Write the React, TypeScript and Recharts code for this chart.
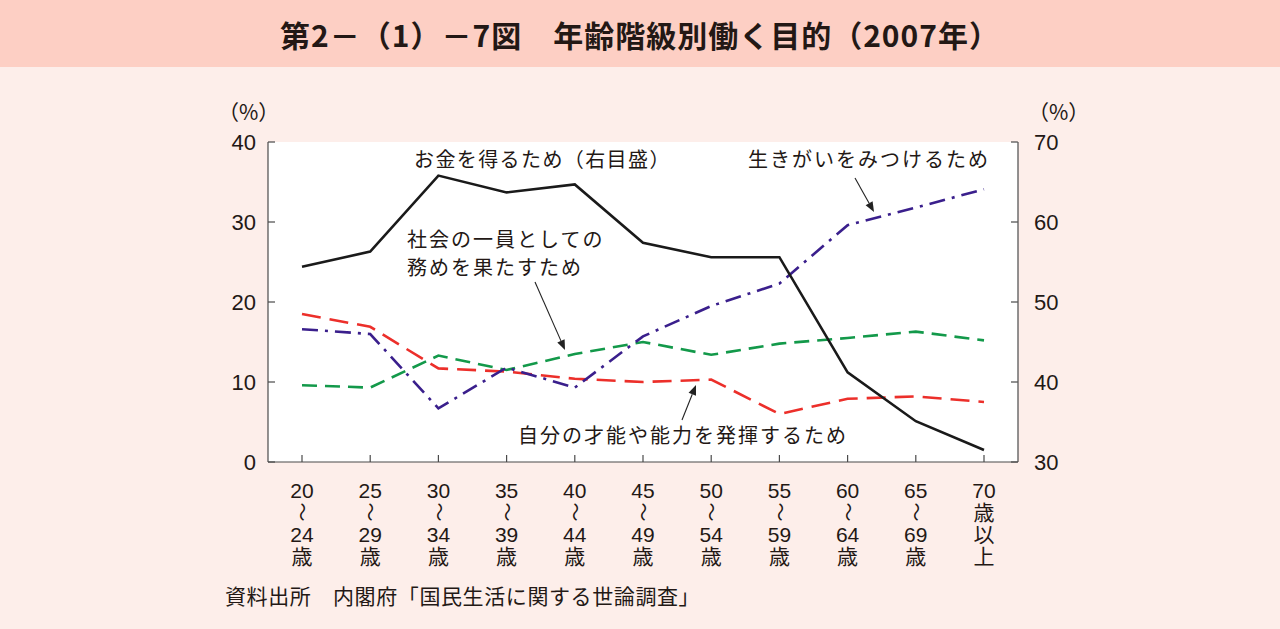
import { LineChart, Line, XAxis, YAxis, CartesianGrid } from "recharts";

// 年齢階級
const AGES = [
  "20～24歳",
  "25～29歳",
  "30～34歳",
  "35～39歳",
  "40～44歳",
  "45～49歳",
  "50～54歳",
  "55～59歳",
  "60～64歳",
  "65～69歳",
  "70歳以上",
];

// お金を得るため（右目盛）
const MONEY = [54.4, 56.3, 65.8, 63.7, 64.7, 57.4, 55.6, 55.6, 41.2, 35.1, 31.5];
// 社会の一員として務めを果たすため
const SOCIAL = [9.6, 9.3, 13.3, 11.5, 13.5, 15.0, 13.4, 14.8, 15.5, 16.3, 15.2];
// 自分の才能や能力を発揮するため
const TALENT = [18.5, 16.9, 11.7, 11.3, 10.4, 10.0, 10.3, 6.0, 7.9, 8.2, 7.5];
// 生きがいをみつけるため
const PURPOSE = [16.6, 16.0, 6.7, 11.8, 9.3, 15.7, 19.5, 22.3, 29.6, 31.8, 34.1];

const LEFT_TICKS = [0, 10, 20, 30, 40];
const RIGHT_TICKS = [30, 40, 50, 60, 70];

const data = AGES.map((age, i) => ({
  age,
  money: MONEY[i],
  social: SOCIAL[i],
  talent: TALENT[i],
  purpose: PURPOSE[i],
}));

const FONT = "'Liberation Sans', 'Noto Sans CJK JP', sans-serif";
const JP = "'Noto Sans CJK JP', sans-serif";
const AXIS = "#4a4a4a";
const TEXT = "#231815";

const LeftTick = ({ x, y, payload }: any) => (
  <g>
    <line x1={x} x2={x + 7} y1={y} y2={y} stroke={AXIS} strokeWidth={1.2} />
    <text x={x - 12} y={y} dy="0.36em" textAnchor="end" fontSize={22} fontFamily={FONT} fill={TEXT}>
      {payload.value}
    </text>
  </g>
);

const RightTick = ({ x, y, payload }: any) => (
  <g>
    <line x1={x - 7} x2={x} y1={y} y2={y} stroke={AXIS} strokeWidth={1.2} />
    <text x={x + 16} y={y} dy="0.36em" textAnchor="start" fontSize={22} fontFamily={FONT} fill={TEXT}>
      {payload.value}
    </text>
  </g>
);

const AgeTick = ({ x, y, payload }: any) => {
  const v: string = payload.value;
  const m = v.match(/^(\d+)～(\d+)歳$/);
  const base = y + 28;
  const t = (s: string, dy: number, key: string) => (
    <text key={key} x={x} y={base + dy} dy="0.36em" textAnchor="middle" fontSize={21} fontFamily={FONT} fill={TEXT}>
      {s}
    </text>
  );
  return (
    <g>
      <line x1={x} x2={x} y1={y - 7} y2={y} stroke={AXIS} strokeWidth={1.2} />
      {m ? (
        <>
          {t(m[1], 0, "a")}
          <text
            x={x}
            y={base + 22}
            textAnchor="middle"
            dy="0.36em"
            fontSize={19}
            fontFamily={JP}
            fill={TEXT}
            transform={`rotate(90 ${x} ${base + 22})`}
          >
            ～
          </text>
          {t(m[2], 44, "b")}
          {t("歳", 66, "c")}
        </>
      ) : (
        <>
          {t(v.replace(/歳以上$/, ""), 0, "a")}
          {t("歳", 22, "b")}
          {t("以", 44, "c")}
          {t("上", 66, "d")}
        </>
      )}
    </g>
  );
};

const Arrow = ({ x1, y1, x2, y2 }: { x1: number; y1: number; x2: number; y2: number }) => {
  const a = Math.atan2(y2 - y1, x2 - x1);
  const l = 10;
  const w = 4;
  const bx = x2 - l * Math.cos(a);
  const by = y2 - l * Math.sin(a);
  const px = -Math.sin(a) * w;
  const py = Math.cos(a) * w;
  return (
    <g>
      <line x1={x1} y1={y1} x2={bx} y2={by} stroke="#222" strokeWidth={1.1} />
      <polygon points={`${x2},${y2} ${bx + px},${by + py} ${bx - px},${by - py}`} fill="#222" />
    </g>
  );
};

const noteStyle = { fontSize: 20, fontFamily: JP, fill: TEXT, letterSpacing: 2 } as const;

export default function App() {
  return (
    <div
      style={{
        position: "absolute",
        left: 0,
        top: 0,
        width: 1280,
        height: 629,
        background: "#fdeeea",
        overflow: "hidden",
      }}
    >
      <div
        style={{
          height: 67,
          background: "#fdcfc4",
          display: "flex",
          alignItems: "center",
          justifyContent: "center",
          fontFamily: JP,
          fontWeight: 700,
          fontSize: 30,
          letterSpacing: 1,
          color: "#231815",
        }}
      >
        第2－（1）－7図　年齢階級別働く目的（2007年）
      </div>
      <div style={{ position: "absolute", left: 0, top: 0 }}>
        <LineChart
          width={1280}
          height={629}
          data={data}
          margin={{ top: 142, right: 202, bottom: 137, left: 208 }}
        >
          <CartesianGrid fill="#ffffff" horizontal={false} vertical={false} />
          <XAxis
            dataKey="age"
            height={30}
            padding={{ left: 34, right: 34 }}
            axisLine={{ stroke: AXIS, strokeWidth: 1.2 }}
            tickLine={false}
            tickSize={0}
            tickMargin={0}
            interval={0}
            tick={<AgeTick />}
          />
          <XAxis
            xAxisId="top"
            dataKey="age"
            orientation="top"
            height={0}
            padding={{ left: 34, right: 34 }}
            axisLine={{ stroke: AXIS, strokeWidth: 1.2 }}
            tickLine={false}
            tick={false}
          />
          <YAxis
            width={60}
            domain={[0, 40]}
            ticks={LEFT_TICKS}
            axisLine={{ stroke: AXIS, strokeWidth: 1.2 }}
            tickLine={false}
            tickSize={0}
            tickMargin={0}
            tick={<LeftTick />}
          />
          <YAxis
            yAxisId="right"
            orientation="right"
            width={60}
            domain={[30, 70]}
            ticks={RIGHT_TICKS}
            axisLine={{ stroke: AXIS, strokeWidth: 1.2 }}
            tickLine={false}
            tickSize={0}
            tickMargin={0}
            tick={<RightTick />}
          />
          <Line
            dataKey="social"
            stroke="#13994a"
            strokeWidth={2.6}
            strokeDasharray="15 8"
            dot={false}
            isAnimationActive={false}
          />
          <Line
            dataKey="talent"
            stroke="#ec2f2a"
            strokeWidth={2.6}
            strokeDasharray="19 9"
            dot={false}
            isAnimationActive={false}
          />
          <Line
            dataKey="purpose"
            stroke="#3a1f8c"
            strokeWidth={2.6}
            strokeDasharray="16 7 3 7"
            dot={false}
            isAnimationActive={false}
          />
          <Line
            yAxisId="right"
            dataKey="money"
            stroke="#1a1a1a"
            strokeWidth={2.6}
            dot={false}
            isAnimationActive={false}
          />
        </LineChart>
      </div>
      <svg
        width={1280}
        height={629}
        style={{ position: "absolute", left: 0, top: 0, pointerEvents: "none" }}
      >
        <text x={218} y={112} dy="0.36em" fontSize={21} fontFamily={JP} fill={TEXT}>
          （%）
        </text>
        <text x={1028} y={112} dy="0.36em" fontSize={21} fontFamily={JP} fill={TEXT}>
          （%）
        </text>
        <text x={414} y={160} dy="0.36em" {...noteStyle} letterSpacing={1.4}>
          お金を得るため（右目盛）
        </text>
        <text x={748} y={160} dy="0.36em" {...noteStyle}>
          生きがいをみつけるため
        </text>
        <text x={407} y={240} dy="0.36em" {...noteStyle}>
          社会の一員としての
        </text>
        <text x={407} y={268} dy="0.36em" {...noteStyle}>
          務めを果たすため
        </text>
        <text x={518} y={436} dy="0.36em" {...noteStyle}>
          自分の才能や能力を発揮するため
        </text>
        <Arrow x1={535} y1={282} x2={565} y2={350} />
        <Arrow x1={855} y1={178} x2={874} y2={212} />
        <Arrow x1={682} y1={420} x2={696} y2={385} />
        <text x={225} y={596} dy="0.36em" fontSize={21} fontFamily={JP} fill={TEXT} letterSpacing={0.6}>
          資料出所　内閣府「国民生活に関する世論調査」
        </text>
      </svg>
    </div>
  );
}
